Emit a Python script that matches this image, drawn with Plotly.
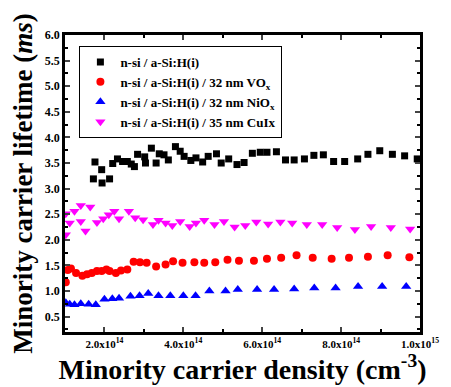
import numpy as np
import plotly.graph_objects as go

SCALE = 1e14  # x values below are in units of 1e14 cm^-3

x_black = [1.72, 1.76, 1.93, 1.94, 2.13, 2.21, 2.33, 2.46, 2.58, 2.68, 2.76, 2.84, 3.02, 3.04, 3.19,
           3.31, 3.39, 3.51, 3.62, 3.80, 3.92, 4.02, 4.19, 4.32, 4.49, 4.63, 4.84, 4.96, 5.15, 5.36,
           5.54, 5.75, 5.95, 6.12, 6.36, 6.59, 6.81, 7.07, 7.31, 7.55, 7.81, 8.09, 8.42, 8.68, 8.98,
           9.30, 9.61, 9.93]
y_black = [3.19, 3.52, 3.37, 3.11, 3.19, 3.49, 3.58, 3.53, 3.53, 3.48, 3.43, 3.67, 3.62, 3.50, 3.79,
           3.50, 3.68, 3.66, 3.56, 3.82, 3.73, 3.63, 3.55, 3.60, 3.52, 3.63, 3.68, 3.50, 3.58, 3.47,
           3.51, 3.69, 3.71, 3.71, 3.72, 3.56, 3.56, 3.58, 3.65, 3.66, 3.53, 3.53, 3.58, 3.67, 3.74,
           3.67, 3.64, 3.58]

x_red = [1.02, 1.07, 1.15, 1.28, 1.44, 1.56, 1.68, 1.81, 1.93, 2.05, 2.13, 2.29, 2.42, 2.58, 2.74,
         2.90, 3.07, 3.31, 3.55, 3.74, 3.98, 4.28, 4.53, 4.81, 5.12, 5.41, 5.79, 6.12, 6.48, 6.87,
         7.28, 7.76, 8.20, 8.68, 9.18, 9.73]
y_red = [1.17, 1.41, 1.44, 1.35, 1.30, 1.33, 1.35, 1.39, 1.39, 1.42, 1.39, 1.35, 1.40, 1.42, 1.57,
         1.56, 1.55, 1.48, 1.52, 1.58, 1.55, 1.56, 1.55, 1.56, 1.61, 1.59, 1.59, 1.63, 1.65, 1.70,
         1.65, 1.63, 1.65, 1.67, 1.70, 1.66]

x_blue = [1.02, 1.12, 1.24, 1.40, 1.60, 1.78, 2.00, 2.20, 2.37, 2.66, 2.89, 3.11, 3.37, 3.67, 4.00,
          4.31, 4.66, 5.07, 5.38, 5.87, 6.30, 6.81, 7.32, 7.86, 8.43, 9.04, 9.65]
y_blue = [0.77, 0.74, 0.73, 0.75, 0.74, 0.73, 0.84, 0.85, 0.86, 0.90, 0.91, 0.95, 0.91, 0.91, 0.91,
          0.91, 1.00, 1.00, 1.03, 1.03, 1.03, 1.04, 1.06, 1.06, 1.09, 1.09, 1.09]

x_mag = [1.02, 1.02, 1.12, 1.24, 1.40, 1.40, 1.52, 1.64, 1.81, 1.97, 2.11, 2.25, 2.37, 2.62, 2.78,
         2.98, 3.23, 3.37, 3.55, 3.72, 3.92, 4.16, 4.32, 4.53, 4.79, 5.03, 5.30, 5.57, 5.85, 6.15,
         6.46, 6.76, 7.13, 7.52, 7.90, 8.35, 8.76, 9.26, 9.75]
y_mag = [2.51, 2.10, 2.33, 2.56, 2.67, 2.36, 2.17, 2.64, 2.34, 2.41, 2.49, 2.56, 2.41, 2.56, 2.43,
         2.39, 2.30, 2.38, 2.33, 2.28, 2.36, 2.26, 2.33, 2.38, 2.30, 2.36, 2.25, 2.28, 2.35, 2.31,
         2.35, 2.33, 2.30, 2.30, 2.24, 2.20, 2.26, 2.24, 2.21]

names = ["n-si / a-Si:H(i)",
         "n-si / a-Si:H(i) / 32 nm VO<sub>x</sub>",
         "n-si / a-Si:H(i) / 32 nm NiO<sub>x</sub>",
         "n-si / a-Si:H(i) / 35 nm CuIx"]

x_tickvals = [2, 4, 6, 8, 10]
x_ticktext = ["2.0x10<sup>14</sup>", "4.0x10<sup>14</sup>", "6.0x10<sup>14</sup>",
              "8.0x10<sup>14</sup>", "1.0x10<sup>15</sup>"]
y_tickvals = [0.5, 1.0, 1.5, 2.0, 2.5, 3.0, 3.5, 4.0, 4.5, 5.0, 5.5, 6.0]
y_ticktext = ["0.5", "1.0", "1.5", "2.0", "2.5", "3.0", "3.5", "4.0", "4.5", "5.0", "5.5", "6.0"]

FONT = "Liberation Serif"

fig = go.Figure()
series = [
    (x_black, y_black, "square", "#000000", 7),
    (x_red, y_red, "circle", "#ff0000", 8),
    (x_blue, y_blue, "triangle-up", "#0000ff", 9),
    (x_mag, y_mag, "triangle-down", "#ff00ff", 9),
]
for (xs, ys, sym, col, sz), nm in zip(series, names):
    fig.add_trace(go.Scatter(
        x=np.array(xs) * SCALE, y=ys, mode="markers", name=nm,
        marker=dict(symbol=sym, color=col, size=sz, line=dict(width=0)),
    ))

# the page body adds an 8px offset; figure sized so that the page matches 451x387
OFF = 8
W, H = 451 - OFF, 387 - OFF
L, T = 62 - OFF, 35 - OFF
R, B = 19, 55
pw, ph = W - L - R, H - T - B

# legend geometry (page pixels)
lx0, ly0 = 77, 46
lx1, ly1 = 266, 126

def px2x(px):
    return (px - OFF - L) / pw

def py2y(py):
    return (H - B - (py - OFF)) / ph

fig.add_shape(type="rect", xref="paper", yref="paper",
              x0=px2x(lx0 + 3), x1=px2x(lx1 + 3), y0=py2y(ly1 + 3), y1=py2y(ly0 + 3),
              fillcolor="black", line=dict(width=0), layer="above")

fig.update_layout(
    width=W, height=H,
    margin=dict(l=L, r=R, t=T, b=B),
    paper_bgcolor="white", plot_bgcolor="white",
    font=dict(family=FONT, color="black"),
    showlegend=True,
    legend=dict(x=px2x(lx0), y=py2y(ly0), xanchor="left", yanchor="top",
                bgcolor="white", bordercolor="black", borderwidth=1,
                font=dict(family=FONT, size=13, color="black", weight="bold"),
                itemsizing="trace", itemwidth=30, tracegroupgap=0),
    xaxis=dict(range=[1.0 * SCALE, 10.0 * SCALE], tickvals=np.array(x_tickvals) * SCALE,
               ticktext=x_ticktext, ticks="inside", ticklen=5, tickwidth=2,
               ticklabeloverflow="allow",
               showline=True, linewidth=2.5, linecolor="black", mirror="allticks",
               showgrid=False, zeroline=False,
               tickfont=dict(family=FONT, size=11, color="black", weight="bold"),
               minor=dict(dtick=1 * SCALE, tick0=0, ticks="inside", ticklen=3, tickwidth=1.5,
                          tickcolor="black", showgrid=False),
               title=dict(text="Minority carrier density (cm<sup>-3</sup>)",
                          font=dict(family=FONT, size=28, color="black", weight="bold"),
                          standoff=3)),
    yaxis=dict(range=[0.2, 6.0], tickvals=y_tickvals, ticktext=y_ticktext,
               ticks="inside", ticklen=5, tickwidth=2,
               showline=True, linewidth=2.5, linecolor="black", mirror="allticks",
               showgrid=False, zeroline=False,
               tickfont=dict(family=FONT, size=12, color="black", weight="bold"),
               minor=dict(dtick=0.25, tick0=0, ticks="inside", ticklen=3, tickwidth=1.5,
                          tickcolor="black", showgrid=False),
               title=dict(text="Minority carrier lifetime (<i>ms</i>)",
                          font=dict(family=FONT, size=27, color="black", weight="bold"),
                          standoff=6)),
)

fig.write_html("out.html")
